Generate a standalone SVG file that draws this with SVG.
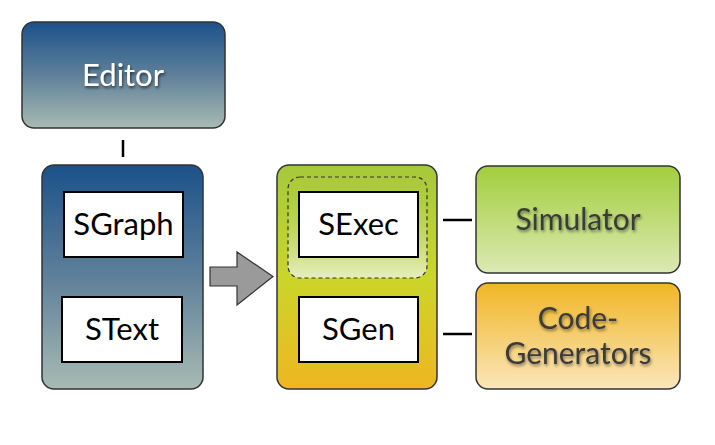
<svg xmlns="http://www.w3.org/2000/svg" width="715" height="445" viewBox="0 0 715 445">
<defs>
<linearGradient id="gBlue" x1="0" y1="0" x2="0" y2="1">
<stop offset="0" stop-color="#1b5189"/>
<stop offset="0.5" stop-color="#5f809a"/>
<stop offset="1" stop-color="#a8bbb3"/>
</linearGradient>
<linearGradient id="gMid" x1="0" y1="0" x2="0" y2="1">
<stop offset="0" stop-color="#a4c93c"/>
<stop offset="0.5" stop-color="#cbd52a"/>
<stop offset="1" stop-color="#efb622"/>
</linearGradient>
<linearGradient id="gDash" x1="0" y1="0" x2="0" y2="1">
<stop offset="0" stop-color="#a4c93c" stop-opacity="0"/>
<stop offset="1" stop-color="#e6efc0"/>
</linearGradient>
<linearGradient id="gSim" x1="0" y1="0" x2="0" y2="1">
<stop offset="0" stop-color="#a3cd3c"/>
<stop offset="1" stop-color="#dbeab4"/>
</linearGradient>
<linearGradient id="gCode" x1="0" y1="0" x2="0" y2="1">
<stop offset="0" stop-color="#f0b624"/>
<stop offset="1" stop-color="#fbe6bc"/>
</linearGradient>
<filter id="shW" x="-20%" y="-20%" width="140%" height="140%">
<feDropShadow dx="1" dy="2" stdDeviation="1.5" flood-color="#000" flood-opacity="0.6"/>
</filter>
<filter id="shD" x="-20%" y="-20%" width="140%" height="140%">
<feDropShadow dx="1" dy="2" stdDeviation="1.5" flood-color="#000" flood-opacity="0.45"/>
</filter>
</defs>
<style>
.box{stroke:#333;stroke-width:1.5}
.inner{fill:#fff;stroke:#000;stroke-width:2}
.t{font-family:"Lato","Open Sans","DejaVu Sans",sans-serif;text-anchor:middle}
.in{font-size:31px;fill:#000}
.wt{font-size:31px;fill:#fff}
.dt{font-size:30px;fill:#3a3a3a}
.conn{stroke:#000;stroke-width:2.5;fill:none}
</style>
<rect width="715" height="445" fill="#fff"/>
<g id="editor">
<rect class="box" x="22" y="22" width="203" height="106" rx="12" fill="url(#gBlue)"/>
<text class="t wt" x="123" y="86" filter="url(#shW)">Editor</text>
</g>
<g id="sgraph-container">
<rect class="box" x="42" y="165" width="161" height="224" rx="12" fill="url(#gBlue)"/>
</g>
<g id="sgraph">
<rect class="inner" x="64" y="192" width="119" height="65"/>
<text class="t in" x="123.5" y="235">SGraph</text>
</g>
<g id="stext">
<rect class="inner" x="62" y="297" width="120" height="65"/>
<text class="t in" x="122" y="340">SText</text>
</g>
<g id="arrow">
<polygon points="210,267 237,267 237,252 273,276.5 237,305 237,286 210,286" fill="#9a9a9a" stroke="#333" stroke-width="1.2"/>
</g>
<g id="sexec-container">
<rect class="box" x="277" y="165" width="160" height="224" rx="12" fill="url(#gMid)"/>
<rect x="288" y="177" width="139" height="101" rx="12" fill="url(#gDash)" stroke="#333" stroke-width="1.2" stroke-dasharray="4,3"/>
</g>
<g id="sexec">
<rect class="inner" x="299" y="192" width="119" height="65"/>
<text class="t in" x="358.5" y="235">SExec</text>
</g>
<g id="sgen">
<rect class="inner" x="299" y="297" width="119" height="65"/>
<text class="t in" x="358.5" y="340">SGen</text>
</g>
<g id="simulator">
<rect class="box" x="476" y="166" width="204" height="107" rx="12" fill="url(#gSim)"/>
<text class="t dt" x="578" y="230" filter="url(#shD)">Simulator</text>
</g>
<g id="codegen">
<rect class="box" x="476" y="283" width="204" height="106" rx="12" fill="url(#gCode)"/>
<text class="t dt" x="578" y="329" filter="url(#shD)">Code-</text>
<text class="t dt" x="578" y="364" filter="url(#shD)">Generators</text>
</g>
<g id="connectors">
<line class="conn" x1="123" y1="140" x2="123" y2="157" stroke-width="3"/>
<line class="conn" x1="443" y1="220" x2="472" y2="220"/>
<line class="conn" x1="443" y1="334" x2="472" y2="334"/>
</g>
</svg>
